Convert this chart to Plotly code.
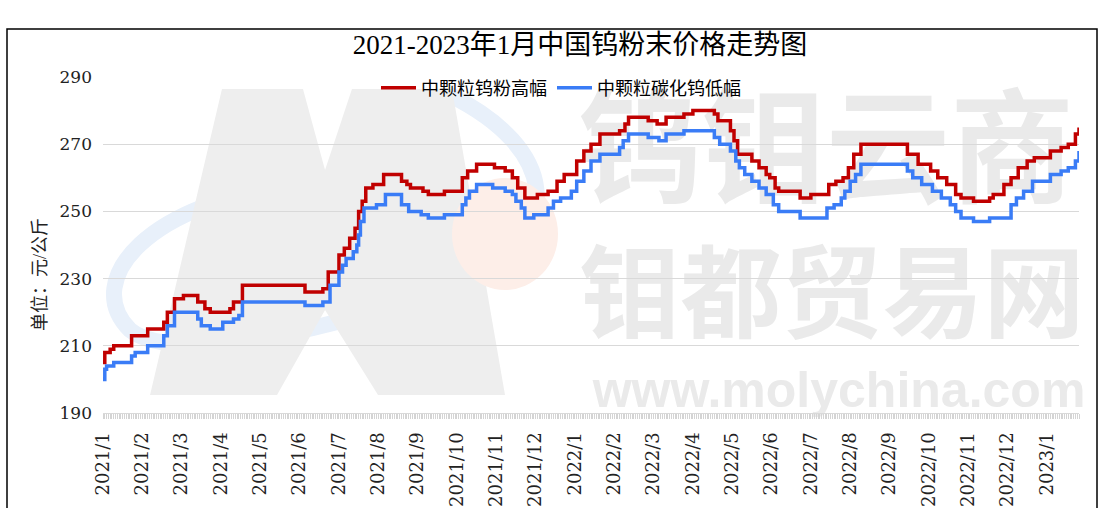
import plotly.graph_objects as go

# ---------------- data ----------------
month_labels = ["2021/1", "2021/2", "2021/3", "2021/4", "2021/5", "2021/6", "2021/7",
                "2021/8", "2021/9", "2021/10", "2021/11", "2021/12", "2022/1", "2022/2",
                "2022/3", "2022/4", "2022/5", "2022/6", "2022/7", "2022/8", "2022/9",
                "2022/10", "2022/11", "2022/12", "2023/1"]
# trading-day index of the first day of each month
month_start_day = [0, 22, 44, 66, 88, 110, 132, 154, 176, 198, 220, 242, 264, 286,
                   308, 330, 352, 374, 396, 418, 440, 462, 484, 506, 528]

# price change points (trading-day index, price in yuan/kg)
red_day = [0, 1, 4, 6, 16, 25, 34, 36, 40, 45, 53, 57, 60, 71, 73, 78, 113, 123, 126,
           132, 135, 138, 141, 143, 145, 147, 151, 157, 167, 170, 172, 179, 182, 191,
           201, 204, 209, 219, 225, 229, 232, 236, 243, 249, 254, 258, 265, 269, 273,
           278, 289, 292, 294, 305, 310, 315, 325, 330, 342, 344, 351, 353, 355, 363,
           367, 371, 373, 376, 378, 390, 396, 406, 410, 414, 417, 420, 424, 450, 456,
           463, 467, 472, 477, 480, 487, 496, 498, 504, 508, 512, 517, 521, 530, 536,
           540, 544, 546]
red_val = [205, 208, 209, 210, 213, 215, 217, 220, 224, 225, 223, 221, 220, 221, 223,
           228, 226, 227, 232, 237, 239, 242, 245, 250, 253, 257, 258, 261, 259, 258,
           257, 256, 255, 256, 260, 262, 264, 263, 262, 260, 257, 254, 255, 256, 259,
           261, 265, 268, 270, 273, 274, 276, 278, 277, 276, 278, 279, 280, 279, 277,
           274, 271, 267, 265, 263, 261, 260, 257, 256, 254, 255, 258, 259, 260, 263,
           267, 270, 267, 264, 262, 260, 258, 255, 254, 253, 254, 255, 258, 260, 263,
           265, 266, 268, 269, 270, 273, 275]

blue_day = [0, 1, 2, 6, 16, 18, 25, 34, 36, 40, 53, 55, 60, 67, 73, 76, 78, 113, 123,
            127, 132, 134, 136, 140, 142, 143, 144, 146, 153, 158, 167, 171, 178, 182,
            191, 201, 203, 205, 209, 218, 225, 229, 231, 234, 236, 241, 249, 252, 256,
            262, 265, 269, 273, 278, 289, 291, 294, 305, 311, 315, 325, 342, 345, 351,
            354, 356, 359, 363, 367, 371, 375, 378, 390, 405, 409, 413, 415, 418, 421,
            424, 450, 453, 458, 464, 469, 474, 477, 480, 487, 496, 508, 511, 515, 520,
            530, 536, 540, 544, 546]
blue_val = [200, 203, 204, 205, 207, 208, 210, 213, 216, 220, 218, 216, 215, 217, 218,
            219, 223, 222, 223, 228, 232, 234, 236, 238, 240, 243, 247, 251, 252, 255,
            252, 250, 249, 248, 249, 252, 254, 256, 258, 257, 256, 255, 253, 251, 248,
            249, 251, 253, 254, 256, 259, 262, 265, 267, 269, 271, 273, 272, 271, 273,
            274, 272, 270, 268, 265, 263, 261, 259, 257, 255, 252, 250, 248, 251, 252,
            254, 256, 259, 261, 264, 262, 260, 258, 256, 254, 252, 250, 248, 247, 248,
            252, 254, 256, 259, 261, 262, 263, 265, 268]

y_ticks = [190, 210, 230, 250, 270, 290]

# ---------------- layout helpers (pixel -> paper) ----------------
W, H = 1102, 508
L, R, T, B = 103, 1079, 77, 413


def px(x):
    return (x - L) / (R - L)


def py(y):
    return (B - y) / (B - T)


serif = "DejaVu Serif, Noto Sans CJK SC, serif"
cjk = "Liberation Serif, Noto Sans CJK SC, sans-serif"

fig = go.Figure()
fig.add_trace(go.Scatter(x=red_day, y=red_val, name="中颗粒钨粉高幅", mode="lines",
                         line=dict(color="#C00000", width=3.5, shape="hv")))
fig.add_trace(go.Scatter(x=blue_day, y=blue_val, name="中颗粒碳化钨低幅", mode="lines",
                         line=dict(color="#3A7CF6", width=3.5, shape="hv")))

shapes = []
# watermark: blue swoosh, M logo (light grey), peach circle, text
sw = [(300, 185), (150, 200), (80, 280), (130, 330), (180, 370), (380, 320), (480, 270),
      (560, 230), (560, 150), (450, 95)]
sw_path = (f"M {px(sw[0][0]):.4f},{py(sw[0][1]):.4f} "
           + " ".join("C " + " ".join(f"{px(x):.4f},{py(y):.4f}" for x, y in sw[i:i + 3])
                      for i in (1, 4, 7)))
shapes.append(dict(type="path", xref="paper", yref="paper", path=sw_path,
                   line=dict(color="#e8f0fa", width=16), layer="below"))
m_pts = [(150, 395), (222, 89), (303, 89), (325, 170), (352, 89), (452, 89),
         (505, 395), (378, 395), (325, 310), (277, 395)]
path = "M " + " L ".join(f"{px(x):.4f},{py(y):.4f}" for x, y in m_pts) + " Z"
shapes.append(dict(type="path", xref="paper", yref="paper", path=path,
                   fillcolor="#eeeeee", line=dict(width=0), layer="below"))
shapes.append(dict(type="circle", xref="paper", yref="paper",
                   x0=px(452), x1=px(558), y0=py(290), y1=py(178),
                   fillcolor="#fdeee8", line=dict(width=0), layer="below"))
wm = [("钨钼云商", 826, 159, 124, "Noto Sans CJK SC", "bold"),
      ("钼都贸易网", 832, 302, 101, "Noto Sans CJK SC", "bold"),
      ("www.molychina.com", 839, 385, 50, "Liberation Sans", "bold")]
for txt, cx, cy, fs, fam, wt in wm:
    shapes.append(dict(type="rect", xref="paper", yref="paper",
                       x0=px(cx - 10), x1=px(cx + 10), y0=py(cy + 10), y1=py(cy - 10),
                       line=dict(width=0), fillcolor="rgba(0,0,0,0)", layer="below",
                       label=dict(text=txt, textposition="middle center",
                                  font=dict(size=fs, color="#eaeaea", family=fam,
                                            weight=wt))))
# outer frame
shapes.append(dict(type="rect", xref="paper", yref="paper",
                   x0=px(7), x1=px(1097), y0=py(520), y1=py(29),
                   line=dict(color="#000000", width=1.5), fillcolor="rgba(0,0,0,0)",
                   layer="above"))

fig.update_layout(
    width=W, height=H,
    margin=dict(l=L, r=W - R, t=T, b=H - B, autoexpand=False),
    paper_bgcolor="white", plot_bgcolor="rgba(0,0,0,0)",
    title=dict(text="2021-2023年1月中国钨粉末价格走势图", x=580 / W, xanchor="center",
               xref="container", y=1 - 45 / H, yref="container", yanchor="middle",
               font=dict(size=27, color="#000000", family=cjk)),
    legend=dict(orientation="h", x=px(561), xanchor="center", y=py(88), yanchor="middle",
                bgcolor="rgba(0,0,0,0)", font=dict(size=18, color="#000000", family=cjk),
                itemwidth=35, tracegroupgap=0),
    showlegend=True,
    shapes=shapes,
    xaxis=dict(range=[0, 546], tickmode="array", tickvals=month_start_day,
               ticktext=month_labels, tickangle=-90, ticks="", showgrid=False,
               showline=True, linecolor="#d9d9d9", linewidth=1, zeroline=False,
               ticklabelstandoff=11, automargin=False,
               tickfont=dict(size=18, color="#222222", family=serif),
               minor=dict(ticks="outside", tick0=0, dtick=1, ticklen=5,
                          tickcolor="#d4d4d4", tickwidth=1, showgrid=False)),
    yaxis=dict(range=[190, 290], tickmode="array", tickvals=y_ticks, ticks="",
               showgrid=True, gridcolor="#d9d9d9", gridwidth=1, zeroline=False,
               showline=False, ticklabelstandoff=10, automargin=False,
               tickfont=dict(size=17, color="#222222", family=serif)),
    annotations=[dict(text="单位：元/公斤", xref="paper", yref="paper", x=px(40), y=py(275),
                      xanchor="center", yanchor="middle", textangle=-90, showarrow=False,
                      font=dict(size=18, color="#222222", family=cjk))],
)

fig.write_html("out.html", config={"displayModeBar": False},
               post_script="document.body.style.margin='0';")
